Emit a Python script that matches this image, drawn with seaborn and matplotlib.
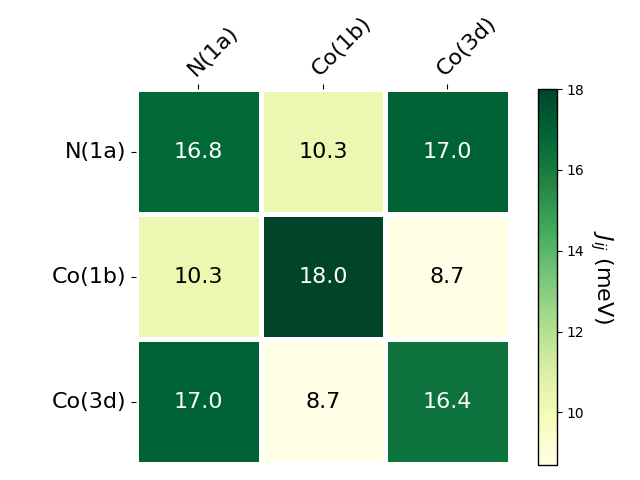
import numpy as np
import pandas as pd
import matplotlib
matplotlib.use("Agg")
import matplotlib.pyplot as plt
import seaborn as sns

labels = ["N(1a)", "Co(1b)", "Co(3d)"]
row_n1a = [16.8, 10.3, 17.0]
row_co1b = [10.3, 18.0, 8.7]
row_co3d = [17.0, 8.7, 16.4]

df = pd.DataFrame([row_n1a, row_co1b, row_co3d], index=labels, columns=labels)

fig = plt.figure(figsize=(6.4, 4.8), dpi=100)
ax = fig.add_axes([0.2125, 0.0333, 0.584, 0.781])
cax = fig.add_axes([0.8406, 0.0313, 0.0297, 0.783])

sns.heatmap(df, ax=ax, cbar_ax=cax, cmap="YlGn", annot=True, fmt=".1f",
            annot_kws={"fontsize": 16}, linewidths=2.5, linecolor="white",
            square=False)

for t in ax.texts:
    c = matplotlib.colors.to_rgb(t.get_color())
    if sum(c) < 1.5:
        t.set_color("black")

ax.xaxis.tick_top()
ax.set_xticklabels(labels, rotation=45, ha="left", rotation_mode="anchor", fontsize=16)
ax.set_yticklabels(labels, rotation=0, fontsize=16)
ax.set_xlabel("")
ax.set_ylabel("")

cbar = ax.collections[0].colorbar
cbar.outline.set_visible(True)
cbar.outline.set_edgecolor("black")
cbar.outline.set_linewidth(1)
cbar.ax.tick_params(labelsize=10)
cbar.set_label(r"$J_{ij}$ (meV)", rotation=270, labelpad=22, fontsize=16)

fig.savefig("out.png", dpi=100)
